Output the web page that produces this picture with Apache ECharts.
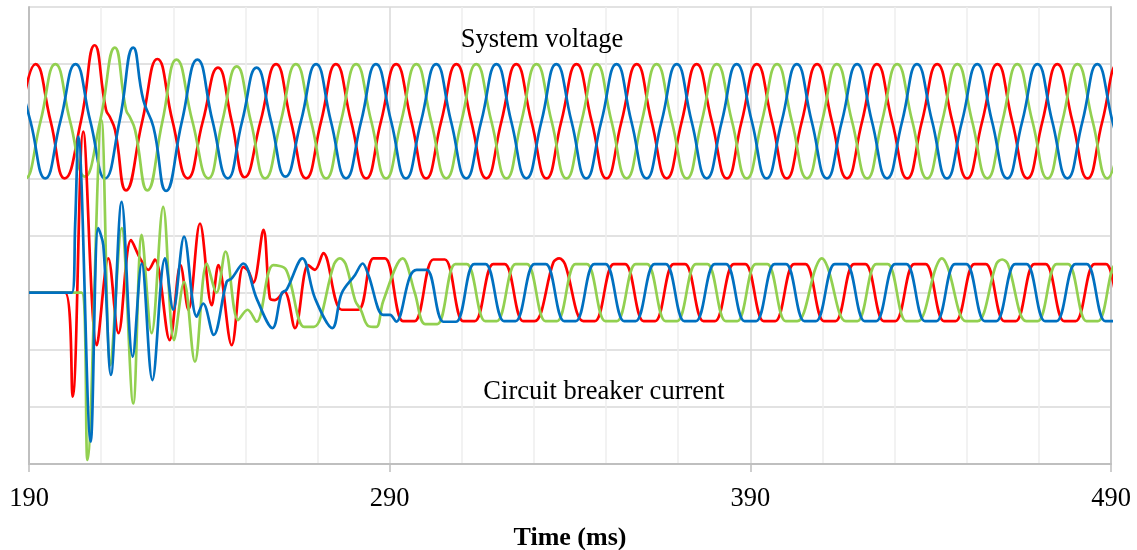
<!DOCTYPE html>
<html>
<head>
<meta charset="utf-8">
<title>System voltage / Circuit breaker current</title>
<script src="https://cdn.jsdelivr.net/npm/echarts@6.0.0/dist/echarts.min.js"></script>
<style>
  html, body { margin: 0; padding: 0; background: #fff; }
  #main { width: 1137px; height: 550px; }
</style>
</head>
<body>
<div id="main"></div>
<script>
// x ticks (ms)
var xTicks = [190, 290, 390, 490]

// [time ms, plotted value]; voltage is drawn around +2, current around -1
var voltageRed = [[187.6,2],[191.8,3],[196.0,2],[199.9,1.0],[204.4,2],[208.2,3.33],[211.35,2.2],[212.46,2.07],[213.84,1.85],[216.9,0.79],[221.4,2],[225.6,3.09],[229.8,2],[234.0,1.0],[238.2,2],[242.4,2.94],[246.2,2],[249.8,1.02],[254.2,2],[258.5,3],[262.6,2],[266.8,1],[271.0,2],[275.1,3],[279.3,2],[283.5,1],[287.6,2],[291.8,3],[296.0,2],[300.1,1],[304.3,2],[308.5,3],[312.6,2],[316.8,1],[321.0,2],[325.1,3],[329.3,2],[333.5,1],[337.6,2],[341.8,3],[346.0,2],[350.1,1],[354.3,2],[358.5,3],[362.6,2],[366.8,1],[371.0,2],[375.1,3],[379.3,2],[383.5,1],[387.6,2],[391.8,3],[396.0,2],[400.1,1],[404.3,2],[408.5,3],[412.6,2],[416.8,1],[421.0,2],[425.1,3],[429.3,2],[433.5,1],[437.6,2],[441.8,3],[446.0,2],[450.1,1],[454.3,2],[458.5,3],[462.6,2],[466.8,1],[471.0,2],[475.1,3],[479.3,2],[483.5,1],[487.6,2],[491.8,3],[496.0,2]]

var voltageGreen = [[184.8,2],[189.0,1],[193.2,2],[197.3,3],[201.4,2],[205.5,1.03],[209.7,2],[213.8,3.29],[216.9,2.2],[218.0,2.07],[219.4,1.85],[222.8,0.79],[227.0,2],[230.9,3.08],[235.3,2],[239.7,1.0],[243.6,2],[247.6,2.96],[251.5,2],[255.5,1.0],[259.8,2],[264.0,3],[268.2,2],[272.4,1],[276.5,2],[280.7,3],[284.9,2],[289.0,1],[293.2,2],[297.4,3],[301.5,2],[305.7,1],[309.9,2],[314.0,3],[318.2,2],[322.4,1],[326.5,2],[330.7,3],[334.9,2],[339.0,1],[343.2,2],[347.4,3],[351.5,2],[355.7,1],[359.9,2],[364.0,3],[368.2,2],[372.4,1],[376.5,2],[380.7,3],[384.9,2],[389.0,1],[393.2,2],[397.4,3],[401.5,2],[405.7,1],[409.9,2],[414.0,3],[418.2,2],[422.4,1],[426.5,2],[430.7,3],[434.9,2],[439.0,1],[443.2,2],[447.4,3],[451.5,2],[455.7,1],[459.9,2],[464.0,3],[468.2,2],[472.4,1],[476.5,2],[480.7,3],[484.9,2],[489.0,1],[493.2,2]]

var voltageBlue = [[186.2,3],[190.4,2],[194.5,1],[198.7,2],[202.9,3],[207.0,2],[211.1,1],[215.1,2],[218.9,3.29],[221.7,2.37],[224.5,1.9],[228.0,0.78],[232.4,2],[236.7,3.08],[240.9,2],[245.1,1.0],[249.1,2],[253.1,2.94],[257.1,2],[261.1,1.03],[265.4,2],[269.6,3],[273.7,2],[277.9,1],[282.1,2],[286.2,3],[290.4,2],[294.5,1],[298.7,2],[302.9,3],[307.0,2],[311.2,1],[315.4,2],[319.6,3],[323.7,2],[327.9,1],[332.1,2],[336.2,3],[340.4,2],[344.5,1],[348.7,2],[352.9,3],[357.0,2],[361.2,1],[365.4,2],[369.6,3],[373.7,2],[377.9,1],[382.1,2],[386.2,3],[390.4,2],[394.5,1],[398.7,2],[402.9,3],[407.0,2],[411.2,1],[415.4,2],[419.6,3],[423.7,2],[427.9,1],[432.1,2],[436.2,3],[440.4,2],[444.5,1],[448.7,2],[452.9,3],[457.0,2],[461.2,1],[465.4,2],[469.6,3],[473.7,2],[477.9,1],[482.1,2],[486.2,3],[490.4,2],[494.5,1]]

var currentRed = [[190,-1],[200.0,-1],[202.1,-2.82],[205.05,1.82],[208.8,-1.92],[212.0,-0.40],[214.8,-1.71],[218.3,-0.08],[220.8,-0.40],[223.1,-0.60],[224.9,-0.42],[229.0,-1.83],[232.0,-0.52],[234.2,-1.30],[237.4,0.21],[240.65,-1.22],[242.5,-0.52],[246.2,-1.92],[249.4,-0.55],[250.8,-0.62],[252.2,-0.83],[255.0,0.10],[256.8,-1.10],[258.2,-1.13],[260.8,-0.98],[263.75,-1.62],[267.4,-0.52],[269.3,-0.60],[271.6,-0.31],[276.7,-1.30],[281.3,-1.30],[285.5,-0.40],[288.7,-0.40],[293.7,-1.5],[296.9,-1.5],[302.1,-0.42],[305.3,-0.42],[310.4,-1.5],[313.6,-1.5],[318.7,-0.5],[321.9,-0.5],[327.0,-1.5],[330.2,-1.5],[335.4,-0.47],[337.0,-0.40],[338.6,-0.5],[343.7,-1.5],[346.9,-1.5],[352.1,-0.5],[355.3,-0.5],[360.4,-1.5],[363.6,-1.5],[368.7,-0.5],[371.9,-0.5],[377.0,-1.5],[380.2,-1.5],[385.4,-0.5],[388.6,-0.5],[393.7,-1.5],[396.9,-1.5],[402.1,-0.5],[405.3,-0.5],[410.4,-1.5],[413.6,-1.5],[418.7,-0.5],[421.9,-0.5],[427.0,-1.5],[430.2,-1.5],[435.4,-0.5],[438.6,-0.5],[443.7,-1.5],[446.9,-1.5],[452.1,-0.5],[455.3,-0.5],[460.4,-1.5],[463.6,-1.5],[468.7,-0.5],[471.9,-0.5],[477.0,-1.5],[480.2,-1.5],[485.4,-0.5],[488.6,-0.5],[493.7,-1.5],[496.9,-1.5]]

var currentGreen = [[190,-1],[204.6,-1],[206.2,-3.93],[210.1,2.02],[212.6,-2.27],[215.7,0.13],[218.9,-2.94],[221.25,0.01],[224.0,-1.71],[227.2,0.50],[230.2,-1.83],[233.0,-0.81],[236.0,-2.21],[239.3,-0.49],[242.0,-1.0],[244.5,-0.28],[248.0,-1.48],[250.6,-1.30],[253.1,-1.51],[257.7,-0.52],[261.3,-0.60],[266.3,-1.6],[269.0,-1.6],[274.6,-0.5],[276.2,-0.40],[277.8,-0.5],[280.5,-1.15],[282.0,-1.3],[284.0,-1.58],[286.3,-1.6],[288.2,-1.15],[293.6,-0.40],[297.0,-1.01],[299.8,-1.55],[303.2,-1.55],[308.2,-0.5],[311.4,-0.5],[316.5,-1.5],[319.7,-1.5],[324.9,-0.5],[328.1,-0.5],[333.2,-1.5],[336.4,-1.5],[341.5,-0.5],[344.7,-0.5],[349.8,-1.5],[353.0,-1.5],[358.2,-0.5],[361.4,-0.5],[366.5,-1.5],[369.7,-1.5],[374.9,-0.5],[378.1,-0.5],[383.2,-1.5],[386.4,-1.5],[391.5,-0.5],[394.7,-0.5],[399.8,-1.5],[403.0,-1.5],[408.2,-0.55],[409.8,-0.40],[411.4,-0.55],[416.5,-1.5],[419.7,-1.5],[424.9,-0.5],[428.1,-0.5],[433.2,-1.5],[436.4,-1.5],[441.5,-0.55],[443.1,-0.40],[444.7,-0.55],[449.8,-1.5],[453.0,-1.5],[458.2,-0.5],[459.8,-0.42],[461.4,-0.5],[466.5,-1.5],[469.7,-1.5],[474.9,-0.5],[478.1,-0.5],[483.2,-1.5],[486.4,-1.5],[491.5,-0.5],[494.7,-0.5]]

var currentBlue = [[190,-1],[201.9,-1],[202.8,0.2],[203.7,1.73],[207.1,-3.61],[209.2,0.13],[210.6,-0.17],[212.7,-2.44],[215.7,0.59],[218.75,-2.12],[221.25,-0.49],[224.2,-2.53],[227.7,-0.40],[230.0,-1.30],[233.0,-0.02],[236.5,-1.42],[238.3,-1.19],[241.2,-1.74],[244.8,-0.81],[246.2,-0.75],[249.4,-0.49],[253.1,-1.10],[257.5,-1.62],[260.05,-1.01],[261.4,-0.95],[265.8,-0.40],[269.3,-1.10],[274.1,-1.62],[276.7,-1.01],[280.4,-0.69],[282.5,-0.49],[284.1,-0.69],[288.2,-1.39],[290.1,-1.39],[291.8,-1.51],[295.6,-0.72],[297.5,-0.60],[300.3,-0.60],[304.9,-1.51],[308.4,-1.51],[313.4,-0.5],[316.6,-0.5],[321.7,-1.5],[324.9,-1.5],[330.1,-0.5],[333.3,-0.5],[338.4,-1.5],[341.6,-1.5],[346.7,-0.5],[349.9,-0.5],[355.0,-1.5],[358.2,-1.5],[363.4,-0.5],[366.6,-0.5],[371.7,-1.5],[374.9,-1.5],[380.1,-0.5],[383.3,-0.5],[388.4,-1.5],[391.6,-1.5],[396.7,-0.5],[399.9,-0.5],[405.0,-1.5],[408.2,-1.5],[413.4,-0.5],[416.6,-0.5],[421.7,-1.5],[424.9,-1.5],[430.1,-0.5],[433.3,-0.5],[438.4,-1.5],[441.6,-1.5],[446.7,-0.5],[449.9,-0.5],[455.0,-1.5],[458.2,-1.5],[463.4,-0.5],[466.6,-0.5],[471.7,-1.5],[474.9,-1.5],[480.1,-0.5],[483.3,-0.5],[488.4,-1.5],[491.6,-1.5]]

var RED = '#ff0000'
var GREEN = '#92d050'
var BLUE = '#0070c0'
var SERIF = '"Liberation Serif", "Times New Roman", serif'

function lineSeries(name, data, color, smooth) {
  return {
    name: name,
    type: 'line',
    data: data,
    smooth: smooth,
    symbol: 'none',
    clip: true,
    lineStyle: { color: color, width: 2.7 },
    itemStyle: { color: color }
  }
}

var chart = echarts.init(document.getElementById('main'))
chart.setOption({
  animation: false,
  backgroundColor: '#fff',
  grid: {
    left: 29,
    right: 26,
    top: 7,
    bottom: 86,
    containLabel: false,
    outerBoundsMode: 'none'
  },
  xAxis: {
    type: 'value',
    min: xTicks[0],
    max: xTicks[xTicks.length - 1],
    interval: 100,
    name: 'Time (ms)',
    nameLocation: 'middle',
    nameGap: 61,
    nameTextStyle: { fontSize: 26, fontWeight: 'bold', fontFamily: SERIF, color: '#000' },
    axisLine: { onZero: false, lineStyle: { color: '#bfbfbf', width: 2 } },
    axisTick: { show: true, length: 8, lineStyle: { color: '#bfbfbf', width: 1.5 } },
    axisLabel: { margin: 22, fontSize: 26.5, fontFamily: SERIF, color: '#000' },
    splitLine: { show: true, lineStyle: { color: '#d9d9d9', width: 1.5 } },
    minorTick: { show: false, splitNumber: 5 },
    minorSplitLine: { show: true, lineStyle: { color: '#eeeeee', width: 1.5 } }
  },
  yAxis: [
    {
      type: 'value',
      min: -4,
      max: 4,
      interval: 1,
      axisLine: { show: true, onZero: false, lineStyle: { color: '#bfbfbf', width: 2 } },
      axisTick: { show: false },
      axisLabel: { show: false },
      splitLine: { show: true, lineStyle: { color: '#d9d9d9', width: 1.5 } }
    },
    {
      type: 'value',
      position: 'right',
      min: -4,
      max: 4,
      interval: 1,
      axisLine: { show: true, onZero: false, lineStyle: { color: '#c8c8c8', width: 2 } },
      axisTick: { show: false },
      axisLabel: { show: false },
      splitLine: { show: false }
    }
  ],
  graphic: [
    {
      type: 'text',
      z: 100,
      x: 542,
      y: 40,
      style: { text: 'System voltage', fill: '#000', font: '26.5px ' + SERIF, textAlign: 'center', textVerticalAlign: 'middle' }
    },
    {
      type: 'text',
      z: 100,
      x: 604,
      y: 392,
      style: { text: 'Circuit breaker current', fill: '#000', font: '26.5px ' + SERIF, textAlign: 'center', textVerticalAlign: 'middle' }
    }
  ],
  series: [
    lineSeries('Va', voltageRed, RED, 0.5),
    lineSeries('Vb', voltageGreen, GREEN, 0.5),
    lineSeries('Vc', voltageBlue, BLUE, 0.5),
    lineSeries('Ia', currentRed, RED, 0.35),
    lineSeries('Ib', currentGreen, GREEN, 0.35),
    lineSeries('Ic', currentBlue, BLUE, 0.35)
  ]
})
</script>
</body>
</html>
